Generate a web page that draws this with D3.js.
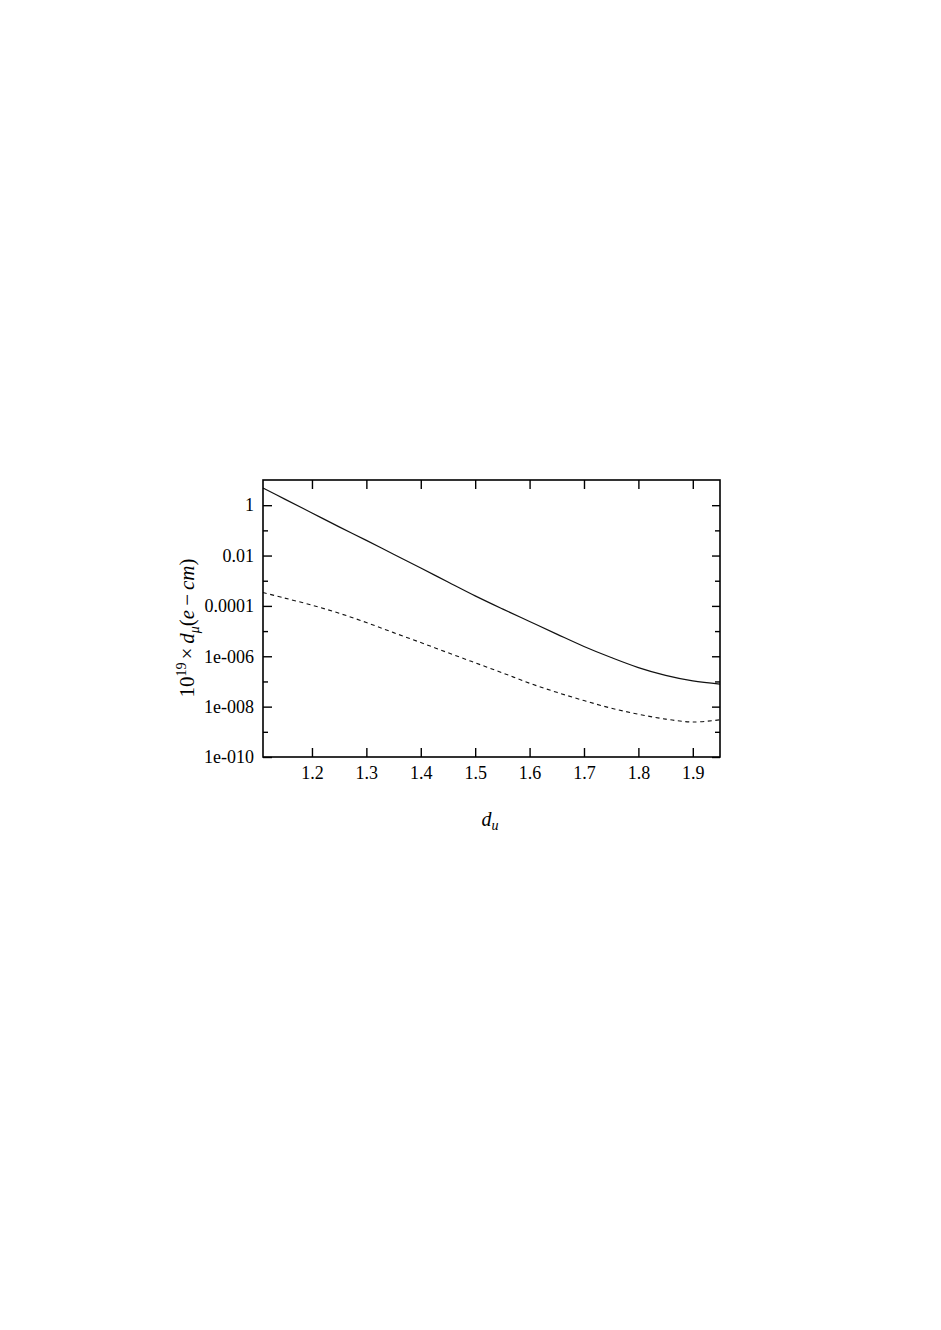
<!DOCTYPE html>
<html>
<head>
<meta charset="utf-8">
<script src="https://cdn.jsdelivr.net/npm/d3@7"></script>
<style>
  body { margin: 0; background: #fff; }
  svg text { font-family: "Liberation Serif", "DejaVu Serif", serif; fill: #000; }
  .domain { display: none; }
</style>
</head>
<body>
<div class="chart"></div>
<script>
var svgWidth = 941;
var svgHeight = 1330;

// chart data
var du = [1.11, 1.15, 1.20, 1.25, 1.30, 1.35, 1.40, 1.45, 1.50, 1.55, 1.60, 1.65, 1.70, 1.75, 1.80, 1.85, 1.90, 1.95];
var dmuSolid = [4.79, 1.74, 0.49, 0.138, 0.040, 0.0112, 3.2e-3, 8.9e-4, 2.5e-4, 7.6e-5, 2.4e-5, 7.6e-6, 2.45e-6, 8.9e-7, 3.55e-7, 1.74e-7, 1.05e-7, 7.9e-8];
var dmuDashed = [3.4e-4, 2.04e-4, 1.07e-4, 5.1e-5, 2.19e-5, 8.7e-6, 3.5e-6, 1.38e-6, 5.5e-7, 2.2e-7, 8.5e-8, 3.7e-8, 1.74e-8, 8.7e-9, 5.0e-9, 3.2e-9, 2.45e-9, 3.0e-9];

var xTicks = [1.2, 1.3, 1.4, 1.5, 1.6, 1.7, 1.8, 1.9];
var yMajor = [1e-10, 1e-8, 1e-6, 1e-4, 1e-2, 1];
var yMajorLabels = ["1e-010", "1e-008", "1e-006", "0.0001", "0.01", "1"];
var yMinor = [1e-9, 1e-7, 1e-5, 1e-3, 1e-1];

var serif = "'Liberation Serif', 'DejaVu Serif', serif";

var margin = { top: 480, right: 221, bottom: 573, left: 263 };
var width = svgWidth - margin.left - margin.right;
var height = svgHeight - margin.top - margin.bottom;

var svg = d3.select(".chart")
  .append("svg")
  .attr("width", svgWidth)
  .attr("height", svgHeight);

var chartGroup = svg.append("g")
  .attr("transform", `translate(${margin.left}, ${margin.top})`);

var x_scale = d3.scaleLinear()
  .domain([1.11, 1.95])
  .range([0, width]);

var y_scale = d3.scaleLog()
  .domain([1e-10, 10])
  .range([height, 0]);

// ticks point inward, on all four sides
chartGroup.append("g")
  .attr("font-family", serif)
  .attr("transform", `translate(0, ${height})`)
  .call(d3.axisBottom(x_scale).tickValues(xTicks).tickSize(-9).tickPadding(9).tickFormat(d3.format(".1f")))
  .call(g => g.selectAll("text").attr("font-size", 18).attr("font-family", serif));

chartGroup.append("g")
  .call(d3.axisTop(x_scale).tickValues(xTicks).tickSize(-9).tickFormat(""));

chartGroup.append("g")
  .attr("font-family", serif)
  .call(d3.axisLeft(y_scale).tickValues(yMajor).tickSize(-9).tickPadding(9)
    .tickFormat((d, i) => yMajorLabels[i]))
  .call(g => g.selectAll("text").attr("font-size", 18).attr("font-family", serif));

chartGroup.append("g")
  .call(d3.axisLeft(y_scale).tickValues(yMinor).tickSize(-5).tickFormat(""));

chartGroup.append("g")
  .attr("transform", `translate(${width}, 0)`)
  .call(d3.axisRight(y_scale).tickValues(yMajor).tickSize(-8).tickFormat(""));

chartGroup.append("g")
  .attr("transform", `translate(${width}, 0)`)
  .call(d3.axisRight(y_scale).tickValues(yMinor).tickSize(-5).tickFormat(""));

chartGroup.selectAll(".tick line").attr("stroke", "#000").attr("stroke-width", 1.4);

// curves
var line = d3.line()
  .x((d, i) => x_scale(du[i]))
  .y(d => y_scale(d))
  .curve(d3.curveCatmullRom);

chartGroup.append("path")
  .datum(dmuSolid)
  .attr("d", line)
  .attr("fill", "none")
  .attr("stroke", "#111")
  .attr("stroke-width", 1.2);

chartGroup.append("path")
  .datum(dmuDashed)
  .attr("d", line)
  .attr("fill", "none")
  .attr("stroke", "#111")
  .attr("stroke-width", 1.1)
  .attr("stroke-dasharray", "4,3.5");

// frame
chartGroup.append("rect")
  .attr("width", width)
  .attr("height", height)
  .attr("fill", "none")
  .attr("stroke", "#000")
  .attr("stroke-width", 1.6);

// axis labels
var yLabel = chartGroup.append("text")
  .attr("transform", `translate(${194 - margin.left}, ${628 - margin.top}) rotate(-90)`)
  .attr("text-anchor", "middle")
  .attr("font-family", serif)
  .attr("font-size", 21);
yLabel.append("tspan").text("10");
yLabel.append("tspan").attr("font-size", 14).attr("dy", -8).text("19");
yLabel.append("tspan").attr("dy", 8).attr("dx", 3).text("\u00d7");
yLabel.append("tspan").attr("dx", 4).attr("font-style", "italic").text("d");
yLabel.append("tspan").attr("font-style", "italic").attr("font-size", 14).attr("dy", 5).text("\u03bc");
yLabel.append("tspan").attr("dy", -5).text("(");
yLabel.append("tspan").attr("font-style", "italic").text("e");
yLabel.append("tspan").attr("dx", 4).text("\u2212");
yLabel.append("tspan").attr("dx", 4).attr("font-style", "italic").text("cm");
yLabel.append("tspan").text(")");

var xLabel = chartGroup.append("text")
  .attr("x", 490 - margin.left)
  .attr("y", 826 - margin.top)
  .attr("text-anchor", "middle")
  .attr("font-family", serif)
  .attr("font-size", 20);
xLabel.append("tspan").attr("font-style", "italic").text("d");
xLabel.append("tspan").attr("font-style", "italic").attr("font-size", 14).attr("dy", 4).text("u");
</script>
</body>
</html>
